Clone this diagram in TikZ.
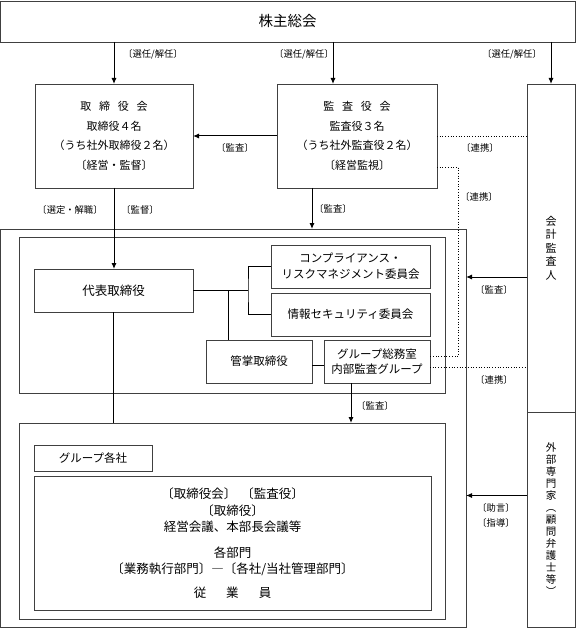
\documentclass[tikz,border=0pt]{standalone}
\usepackage{fontspec}
\setmainfont{Noto Sans CJK JP}
\usetikzlibrary{arrows.meta}

\tikzset{
  bx/.style 2 args={draw=black!75,line width=0.7pt,inner sep=0pt,outer sep=0pt,
    align=center,minimum width=#1pt,minimum height=#2pt,
    font=\fontsize{11.5}{19.5}\selectfont},
  arr/.style={line width=1pt,-{Latex[length=6pt,width=5pt]}},
  link/.style={line width=0.7pt,dotted},
  tag/.style={inner sep=0pt,font=\fontsize{9.3}{11}\selectfont},
}
\newcommand{\kk}{\hspace{.7em}}

\begin{document}
\begin{tikzpicture}[x=1pt,y=-1pt]
\useasboundingbox (0,0) rectangle (576,636);

\begin{scope} % shareholders, boards, auditors
  \node[bx={575}{41},font=\fontsize{14.5}{16}\selectfont] (soukai) at (287.5,21.5) {株主総会};
  \node[bx={158}{104},font=\fontsize{11}{19.5}\selectfont] (torishimari) at (114,136)
    {取\kk 締\kk 役\kk 会\\取締役４名\\（うち社外取締役２名）\\〔経営・監督〕};
  \node[bx={160}{104},font=\fontsize{11}{19.5}\selectfont] (kansayaku) at (357,136)
    {監\kk 査\kk 役\kk 会\\監査役３名\\（うち社外監査役２名）\\〔経営監視〕};
  \node[bx={48}{328},font=\fontsize{11}{13.4}\selectfont] (kaikei) at (551,248)
    {会\\計\\監\\査\\人};
  \node[bx={48}{215},font=\fontsize{10.5}{12}\selectfont] (gaibu) at (551,519.5)
    {外\\部\\専\\門\\家\\︵\\顧\\問\\弁\\護\\士\\等\\︶};
\end{scope}

\begin{scope} % company frames
  \node[bx={466}{398}] (group) at (233,428) {};
  \node[bx={426}{156}] (keiei) at (232,315) {};
  \node[bx={426}{196}] (kakusha) at (232,521) {};
\end{scope}

\begin{scope} % executive boxes
  \node[bx={159}{43},font=\fontsize{12.5}{15}\selectfont] (daihyo) at (113.5,290.5) {代表取締役};
  \node[bx={159}{43},font=\fontsize{11.5}{16}\selectfont] (compliance) at (350.5,266.5)
    {コンプライアンス・\\リスクマネジメント委員会};
  \node[bx={159}{43}] (joho) at (350.5,314.5) {情報セキュリティ委員会};
  \node[bx={106}{43}] (kansho) at (259,361.5) {管掌取締役};
  \node[bx={106}{43},font=\fontsize{11.5}{15.5}\selectfont] (soumu) at (377,361.5)
    {グループ総務室\\内部監査グループ};
\end{scope}

\begin{scope} % group companies
  \node[bx={118}{26}] (kakushaLabel) at (93,458) {グループ各社};
  \node[bx={397}{134},font=\fontsize{12.5}{16.5}\selectfont] (kaigi) at (232.5,543)
    {〔取締役会〕\hspace{.4em}〔監査役〕\\〔取締役〕\\経営会議、本部長会議等\\[9pt]
     各部門\\〔業務執行部門〕―〔各社/当社管理部門〕\\[7pt]
     従\hspace{1.6em}業\hspace{1.6em}員};
\end{scope}

% connectors
\coordinate (s2) at ([xshift=-24pt]kansayaku.north);
\coordinate (k2) at ([yshift=-31pt]kansayaku.east);
\coordinate (k3) at ([xshift=-45pt]kansayaku.south);
\coordinate (br) at ([xshift=55pt]daihyo.east);
\coordinate (kt) at ([xshift=-31pt]kansho.north);
\coordinate (st) at ([xshift=-26pt]soumu.south);

\draw[arr] (soukai.south -| torishimari) -- (torishimari.north);
\draw[arr] (soukai.south -| s2) -- (s2);
\draw[arr] (soukai.south -| kaikei) -- (kaikei.north);
\draw[arr] (kansayaku.west) -- (torishimari.east);
\draw[arr] (torishimari.south) -- (torishimari.south |- daihyo.north);
\draw[arr] (k3) -- (k3 |- group.north);
\draw[arr] (st) -- (st |- kakusha.north);
\draw[arr] ([yshift=-29pt]kaikei.west) -- ([yshift=-29pt]kaikei.west -| group.east);
\draw[arr] ([yshift=24pt]gaibu.west) -- ([yshift=24pt]gaibu.west -| group.east);

\begin{scope}[line width=0.8pt] % solid links
  \draw (daihyo.east) -- (br);
  \draw (compliance.west) -| (br) |- (joho.west);
  \draw (kt |- daihyo.east) -- (kt);
  \draw ([yshift=-4pt]kansho.east) -- ([yshift=-4pt]soumu.west);
  \draw (daihyo.south) -- (daihyo.south |- kakusha.north);
\end{scope}

\draw[link] (kansayaku.east) -- (kansayaku.east -| kaikei.west);
\draw[link] (k2) -- ++(21,0) |- ([yshift=5pt]soumu.east);
\draw[link] ([yshift=-6pt]soumu.east) -- ([yshift=-6pt]soumu.east -| kaikei.west);

\begin{scope} % connector labels
  \node[tag] (t1) at (153,54) {〔選任/解任〕};
  \node[tag] (t2) at (304,54) {〔選任/解任〕};
  \node[tag] (t3) at (512,54) {〔選任/解任〕};
  \node[tag] (t4) at (235,148) {〔監査〕};
  \node[tag] (t5) at (480,148) {〔連携〕};
  \node[tag] (t6) at (479,197) {〔連携〕};
  \node[tag] (t7) at (70,210) {〔選定・解職〕};
  \node[tag] (t8) at (140,210) {〔監督〕};
  \node[tag] (t9) at (333,209) {〔監査〕};
  \node[tag] (t10) at (494,290) {〔監査〕};
  \node[tag] (t11) at (494,380) {〔連携〕};
  \node[tag] (t12) at (375,406) {〔監査〕};
  \node[tag] (t13) at (496,508) {〔助言〕};
  \node[tag] (t14) at (496,523) {〔指導〕};
\end{scope}

\end{tikzpicture}
\end{document}
